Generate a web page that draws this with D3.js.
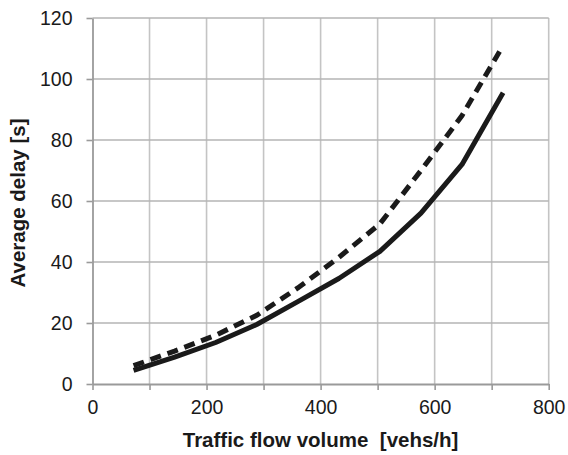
<!DOCTYPE html>
<html>
<head>
<meta charset="utf-8">
<script src="https://cdn.jsdelivr.net/npm/d3@7"></script>
<style>
  body { margin: 0; background: #fff; }
  svg { display: block; }
  text { font-family: "Liberation Sans", Arial, sans-serif; fill: #1a1a1a; }
</style>
</head>
<body>
<div id="chart"></div>
<script>
// flow volume [vehs/h]
let flows = [72, 144, 216, 288, 360, 432, 504, 576, 648, 720];
// average delay [s], solid and dashed series
let delaySolid = [4.5, 8.8, 13.6, 19.5, 27, 34.6, 43.5, 56, 72, 95.5];
let delayDashed = [6, 10.8, 16, 22.5, 31.5, 41.5, 52.5, 70, 88, 111];
let xTicks = [0, 200, 400, 600, 800];
let yTicks = [0, 20, 40, 60, 80, 100, 120];

let W = 568, H = 455;
let margin = {top: 18, right: 19.3, bottom: 71, left: 92.5};

let svg = d3.select("#chart").append("svg")
    .attr("width", W)
    .attr("height", H);

let x = d3.scaleLinear().domain([0, 800]).range([margin.left, W - margin.right]);
let y = d3.scaleLinear().domain([0, 120]).range([H - margin.bottom, margin.top]);

//vertical gridlines every 100
svg.append("g").selectAll("line")
    .data(d3.range(100, 801, 100))
    .enter().append("line")
    .attr("x1", d => x(d)).attr("x2", d => x(d))
    .attr("y1", y(0)).attr("y2", y(120))
    .attr("stroke", "#c4c4c4")
    .attr("stroke-width", 1.6);

//horizontal gridlines
svg.append("g").selectAll("line")
    .data(yTicks.slice(1))
    .enter().append("line")
    .attr("x1", x(0)).attr("x2", x(800))
    .attr("y1", d => y(d)).attr("y2", d => y(d))
    .attr("stroke", "#b4b4b4")
    .attr("stroke-width", 1.6);

//x axis
let xAxis = svg.append("g")
    .attr("transform", "translate(0," + y(0) + ")")
    .call(d3.axisBottom(x).tickValues(d3.range(0, 801, 100)).tickSize(6).tickSizeOuter(0)
        .tickFormat(d => xTicks.includes(d) ? d : ""));
xAxis.select(".domain").attr("stroke", "#9a9a9a").attr("stroke-width", 1.8);
xAxis.selectAll(".tick line").attr("stroke", "#9a9a9a").attr("stroke-width", 1.6);
xAxis.selectAll(".tick text")
    .attr("y", 16)
    .style("font-size", "19.5px")
    .style("font-family", "'Liberation Sans', Arial, sans-serif")
    .attr("fill", "#1a1a1a");

//y axis
let yAxis = svg.append("g")
    .attr("transform", "translate(" + x(0) + ",0)")
    .call(d3.axisLeft(y).tickValues(yTicks).tickSize(6).tickSizeOuter(0));
yAxis.select(".domain").attr("stroke", "#9a9a9a").attr("stroke-width", 1.8);
yAxis.selectAll(".tick line").attr("stroke", "#9a9a9a").attr("stroke-width", 1.6);
yAxis.selectAll(".tick text")
    .attr("x", -20)
    .style("font-size", "19.5px")
    .style("font-family", "'Liberation Sans', Arial, sans-serif")
    .attr("fill", "#1a1a1a");

//lines
let line = d3.line()
    .x((d, i) => x(flows[i]))
    .y(d => y(d));

svg.append("path")
    .datum(delaySolid)
    .attr("d", line)
    .attr("fill", "none")
    .attr("stroke", "#1a1a1a")
    .attr("stroke-width", 5)
    .attr("stroke-linejoin", "round");

svg.append("path")
    .datum(delayDashed)
    .attr("d", line)
    .attr("fill", "none")
    .attr("stroke", "#1a1a1a")
    .attr("stroke-width", 5)
    .attr("stroke-dasharray", "11,7");

//axis titles
svg.append("text")
    .attr("x", (x(0) + x(800)) / 2)
    .attr("y", 447)
    .attr("text-anchor", "middle")
    .style("font-size", "20.5px")
    .style("font-weight", "bold")
    .style("white-space", "pre")
    .text("Traffic flow volume  [vehs/h]");

svg.append("text")
    .attr("transform", "translate(25," + ((y(0) + y(120)) / 2 + 2) + ") rotate(-90)")
    .attr("text-anchor", "middle")
    .style("font-size", "20.5px")
    .style("font-weight", "bold")
    .text("Average delay [s]");
</script>
</body>
</html>
